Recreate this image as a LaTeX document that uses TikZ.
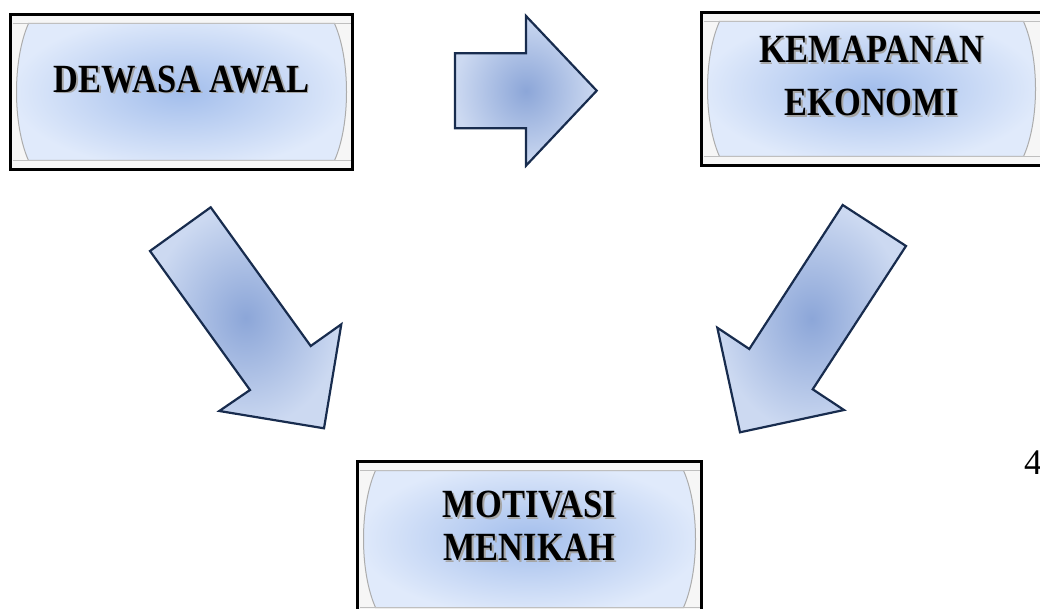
\documentclass[tikz,border=0pt]{standalone}
\usepackage{fontspec}
\usepackage{tikz}
\usetikzlibrary{calc, positioning}
\newfontfamily\boxfont[FakeStretch=0.86]{Liberation Serif}
\newfontfamily\numfont{Liberation Serif}
\definecolor{boxmid}{RGB}{163, 190, 236}
\definecolor{boxedge}{RGB}{224, 234, 251}
\definecolor{arrowmid}{RGB}{140, 166, 216}
\definecolor{arrowedge}{RGB}{204, 217, 241}
\definecolor{arrowline}{RGB}{24, 44, 78}
\newcommand{\shadowed}[1]{\makebox[0pt][l]{\hspace{1.8pt}\raisebox{-1.8pt}{\color{black!35}#1}}#1}

\tikzset{
  framebox/.style={draw=black, line width=3pt, fill=gray!7,
    path picture={
      \shade[inner color=boxmid, outer color=boxedge, draw=gray!65, line width=1pt]
        let \p1=(path picture bounding box.north west), \p2=(path picture bounding box.south east) in
        (\x1+18pt,\y1-9pt) -- (\x2-18pt,\y1-9pt)
        .. controls (\x2-2pt,\y1-45pt) and (\x2-2pt,\y2+45pt) .. (\x2-18pt,\y2+9pt)
        -- (\x1+18pt,\y2+9pt)
        .. controls (\x1+2pt,\y2+45pt) and (\x1+2pt,\y1-45pt) .. cycle;
      \draw[gray!50, line width=0.9pt]
        let \p1=(path picture bounding box.north west), \p2=(path picture bounding box.south east) in
        (\x1+2pt,\y1-9pt) -- (\x2-2pt,\y1-9pt)
        (\x1+2pt,\y2+9pt) -- (\x2-2pt,\y2+9pt);
    }},
  boxtext/.style={font=\boxfont\bfseries\fontsize{40}{53}\selectfont, align=center, yshift=12pt},
  blockarrow/.style={draw=arrowline, line width=2.2pt, line join=miter, inner color=arrowmid, outer color=arrowedge}
}

\begin{document}
\begin{tikzpicture}[x=1pt, y=-1pt]
  \useasboundingbox (0,0) rectangle (1040,609);

  % boxes
  \node[framebox, minimum width=342pt, minimum height=155pt,
        label={[boxtext]center:\shadowed{DEWASA AWAL}}] (dewasa) at (181.5,92) {};
  \node[framebox, minimum width=340pt, minimum height=153pt,
        label={[boxtext]center:\shadowed{KEMAPANAN}\\\shadowed{EKONOMI}}] (ekonomi) at (871.5,89) {};
  \node[framebox, minimum width=344pt, minimum height=155pt,
        label={[boxtext, font=\boxfont\bfseries\fontsize{40}{43}\selectfont]center:\shadowed{MOTIVASI}\\\shadowed{MENIKAH}}] (motivasi) at (529.5,539) {};

  % block arrows
  \shade[blockarrow] (455,53.3) -- (526,53.3) -- (526,16) -- (596.7,90.7)
    -- (526,165.7) -- (526,128.3) -- (455,128.3) -- cycle;
  \shade[blockarrow] (210.7,207.3) -- (150,251) -- (250,390) -- (219.3,411)
    -- (324,428.3) -- (341.3,324.3) -- (310.7,346) -- cycle;
  \shade[blockarrow] (842.7,205) -- (906,246) -- (812.7,389.3) -- (844,410)
    -- (740,432.3) -- (717.3,327.7) -- (749.3,349) -- cycle;

  \node[font=\numfont\fontsize{36}{40}\selectfont] (pagenum) at (1033,463) {4};
\end{tikzpicture}
\end{document}
